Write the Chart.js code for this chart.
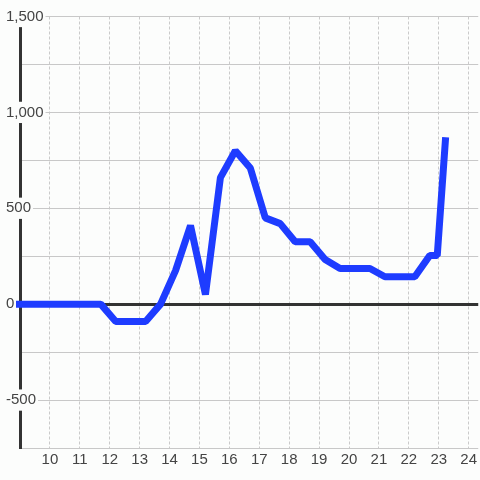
<!DOCTYPE html>
<html>
<head>
<meta charset="utf-8">
<script src="https://cdn.jsdelivr.net/npm/chart.js@4/dist/chart.umd.min.js"></script>
<style>
  html, body { margin: 0; padding: 0; background: #fcfdfc; }
  #grafico { display: block; }
</style>
</head>
<body>
<canvas id="grafico" width="480" height="480"></canvas>
<script>
// dados (x = hora, y = valor)
const horas = [8.7, 9.2, 9.7, 10.2, 10.7, 11.2, 11.7, 12.2, 12.7, 13.2, 13.7, 14.2, 14.7, 15.2, 15.7, 16.2,
  16.7, 17.2, 17.7, 18.2, 18.7, 19.2, 19.7, 20.2, 20.7, 21.2, 21.7, 22.2, 22.7, 22.95, 23.23];
const valores = [0, 0, 0, 0, 0, 0, 0, -90, -90, -90, 0, 175, 410, 50, 660, 800,
  710, 450, 420, 325, 325, 233, 186, 186, 186, 143, 143, 143, 254, 254, 870];

// ticks do eixo x que aparecem (o 9 fica escondido atras do eixo)
const ticksX = [10, 11, 12, 13, 14, 15, 16, 17, 18, 19, 20, 21, 22, 23, 24];

const corFundo = '#fcfdfc';
const fonteEixo = { family: '"Liberation Sans", Arial, sans-serif', size: 15, lineHeight: 1.15 };

const pontos = horas.map((h, i) => ({ x: h, y: valores[i] }));

const ctx = document.getElementById('grafico').getContext('2d');

new Chart(ctx, {
  type: 'line',
  data: {
    datasets: [{
      data: pontos,
      borderColor: '#1e3cff',
      borderWidth: 7,
      borderJoinStyle: 'bevel',
      borderCapStyle: 'butt',
      pointRadius: 0,
      tension: 0,
      fill: false,
      clip: { left: 4, right: 4, top: 10, bottom: 10 }
    }]
  },
  options: {
    responsive: false,
    animation: false,
    layout: { padding: { left: 5, top: 16.5, right: 0, bottom: 0 } },
    plugins: { legend: { display: false }, tooltip: { enabled: false } },
    scales: {
      x: {
        type: 'linear',
        min: 9,
        max: 24.32,
        afterBuildTicks: (scale) => { scale.ticks = ticksX.map(v => ({ value: v })); },
        afterFit: (scale) => { scale.height = 32; },
        grid: { color: '#cacaca', lineWidth: 1, drawTicks: false },
        border: { display: false, dash: [3, 2] },
        ticks: { color: '#444', font: fonteEixo, padding: 3, maxRotation: 0 }
      },
      y: {
        type: 'linear',
        min: -750,
        max: 1500,
        afterFit: (scale) => { scale.width = 15; },
        grid: {
          drawTicks: false,
          color: (c) => c.tick && c.tick.value === 0 ? '#333' : '#c8c8c8',
          lineWidth: (c) => c.tick && c.tick.value === 0 ? 3 : 1
        },
        border: { display: true, color: '#333', width: 3 },
        ticks: {
          stepSize: 250,
          color: '#444',
          font: fonteEixo,
          // mirror pra o texto nao ser cortado, padding negativo puxa pra esquerda do eixo
          mirror: true,
          padding: -14,
          showLabelBackdrop: true,
          backdropColor: (c) => c.tick && c.tick.value % 500 === 0 ? corFundo : 'rgba(0,0,0,0)',
          backdropPadding: 2,
          // so mostra de 500 em 500
          callback: (v) => v % 500 === 0 ? v.toLocaleString('en-US') : ''
        }
      }
    }
  }
});
</script>
</body>
</html>
